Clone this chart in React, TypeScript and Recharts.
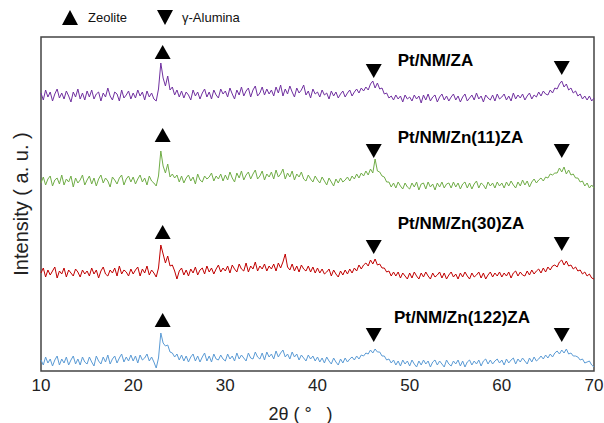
import { LineChart, Line, XAxis, YAxis, ReferenceArea, ReferenceDot } from "recharts"

// XRD scans, 10-70 deg, 0.25 deg step (intensity in a.u.)
const scanStart = 10
const scanStep = 0.25

const ptNmZa = [
  12, 5, 15, 8, 13, 4, 11, 16, 7, 12, 6, 14, 9, 3, 13, 8, 16, 6, 12, 5,
  14, 8, 15, 6, 11, 13, 4, 12, 8, 17, 9, 5, 13, 11, 4, 15, 7, 10, 14, 6,
  12, 7, 15, 9, 13, 5, 14, 8, 12, 6, 4, 16, 42, 27, 19, 29, 15, 18, 10, 15,
  8, 14, 7, 13, 10, 5, 15, 9, 13, 6, 12, 16, 8, 13, 6, 15, 10, 7, 16, 11,
  14, 8, 17, 11, 6, 15, 10, 18, 9, 14, 17, 8, 15, 19, 9, 12, 18, 10, 16, 11,
  15, 9, 18, 12, 20, 9, 16, 11, 19, 13, 8, 17, 12, 15, 20, 10, 14, 7, 16, 11,
  13, 8, 15, 10, 12, 6, 14, 9, 13, 7, 11, 14, 8, 12, 15, 9, 13, 16, 12, 17,
  14, 18, 15, 21, 24, 17, 22, 16, 17, 11, 12, 7, 9, 5, 10, 6, 9, 3, 10, 6,
  8, 4, 10, 6, 9, 2, 10, 5, 11, 4, 8, 10, 3, 8, 11, 5, 9, 4, 8, 11,
  5, 9, 3, 8, 11, 4, 7, 10, 5, 12, 6, 9, 3, 10, 7, 5, 10, 4, 11, 6,
  8, 11, 5, 9, 4, 12, 6, 10, 7, 11, 5, 9, 12, 6, 10, 8, 13, 9, 14, 11,
  10, 15, 12, 17, 16, 21, 24, 18, 21, 15, 17, 12, 14, 9, 11, 6, 9, 5, 9, 4,
  7,
]

const ptNmZn11Za = [
  8, 14, 6, 12, 15, 5, 11, 13, 7, 16, 6, 12, 9, 15, 4, 13, 8, 11, 16, 6,
  11, 15, 7, 13, 5, 12, 16, 8, 13, 10, 4, 14, 11, 7, 13, 16, 6, 12, 15, 9,
  14, 7, 12, 16, 9, 13, 6, 15, 10, 8, 5, 15, 40, 25, 18, 27, 14, 17, 13, 16,
  9, 15, 8, 13, 16, 10, 14, 7, 17, 11, 9, 15, 12, 14, 18, 10, 15, 12, 17, 10,
  16, 11, 19, 13, 9, 18, 13, 20, 11, 16, 19, 12, 17, 21, 12, 15, 20, 11, 17, 14,
  19, 12, 21, 14, 17, 22, 12, 18, 14, 20, 11, 17, 14, 19, 12, 10, 16, 12, 9, 15,
  11, 8, 14, 10, 6, 13, 9, 5, 12, 8, 13, 9, 11, 14, 10, 15, 12, 17, 13, 18,
  15, 20, 16, 22, 18, 32, 20, 19, 15, 14, 9, 9, 4, 8, 3, 9, 5, 2, 8, 4,
  2, 8, 4, 9, 1, 7, 8, 2, 9, 4, 7, 1, 8, 4, 9, 3, 7, 8, 3, 9,
  4, 8, 2, 7, 9, 3, 8, 2, 7, 10, 3, 8, 6, 2, 9, 5, 8, 3, 9, 5,
  8, 3, 9, 5, 10, 6, 3, 9, 5, 11, 6, 10, 4, 9, 12, 8, 11, 13, 10, 14,
  13, 17, 16, 18, 18, 23, 19, 24, 17, 21, 16, 17, 13, 13, 9, 10, 5, 8, 3, 6,
  3,
]

const ptNmZn30Za = [
  10, 15, 6, 13, 8, 12, 16, 5, 12, 9, 15, 6, 13, 10, 7, 14, 11, 6, 13, 9,
  12, 7, 15, 9, 13, 5, 12, 16, 9, 7, 13, 10, 15, 7, 17, 9, 13, 11, 7, 14,
  9, 13, 16, 7, 14, 10, 17, 8, 13, 10, 6, 15, 38, 29, 20, 27, 17, 18, 12, 4,
  12, 15, 8, 13, 7, 14, 10, 16, 8, 13, 15, 9, 17, 11, 15, 9, 14, 18, 11, 15,
  12, 17, 10, 18, 14, 11, 19, 14, 12, 20, 11, 17, 14, 21, 12, 17, 14, 19, 12, 17,
  14, 19, 12, 20, 15, 21, 29, 16, 13, 19, 12, 17, 11, 18, 14, 12, 17, 11, 16, 10,
  15, 10, 14, 9, 11, 14, 7, 13, 9, 6, 12, 8, 13, 9, 14, 10, 15, 12, 18, 14,
  18, 20, 17, 23, 19, 24, 18, 19, 15, 15, 11, 12, 7, 11, 7, 11, 5, 10, 7, 4,
  10, 5, 11, 7, 4, 10, 6, 11, 7, 4, 10, 6, 8, 11, 5, 10, 4, 8, 11, 6,
  9, 4, 10, 6, 11, 7, 4, 10, 6, 8, 11, 5, 10, 4, 8, 11, 6, 10, 7, 11,
  6, 10, 7, 11, 5, 10, 12, 7, 11, 8, 7, 12, 8, 13, 9, 12, 14, 10, 15, 11,
  16, 13, 17, 18, 16, 21, 23, 18, 22, 17, 18, 14, 16, 12, 13, 9, 11, 7, 9, 5,
  4,
]

const ptNmZn122Za = [
  11, 6, 14, 8, 12, 5, 11, 15, 6, 12, 8, 14, 6, 11, 15, 7, 12, 6, 14, 9,
  7, 14, 9, 5, 15, 10, 7, 14, 9, 16, 7, 12, 15, 8, 13, 17, 9, 14, 10, 16,
  10, 15, 8, 16, 11, 13, 17, 10, 14, 9, 3, 13, 38, 28, 25, 26, 19, 18, 14, 17,
  11, 16, 10, 15, 9, 14, 17, 10, 15, 9, 14, 18, 10, 15, 9, 17, 12, 11, 16, 12,
  10, 17, 12, 15, 10, 18, 12, 16, 13, 10, 18, 13, 12, 19, 14, 12, 18, 11, 19, 14,
  17, 12, 20, 14, 18, 21, 14, 17, 12, 19, 14, 17, 11, 16, 13, 10, 16, 12, 15, 10,
  14, 9, 13, 8, 14, 10, 7, 13, 9, 6, 12, 8, 13, 9, 12, 14, 11, 15, 12, 16,
  15, 18, 17, 21, 18, 22, 19, 19, 15, 15, 11, 12, 8, 11, 6, 10, 5, 11, 7, 10,
  5, 11, 7, 4, 10, 6, 11, 7, 10, 4, 9, 11, 6, 10, 7, 4, 11, 7, 5, 10,
  7, 11, 5, 10, 4, 9, 11, 6, 10, 7, 11, 5, 10, 12, 7, 11, 7, 10, 12, 8,
  11, 6, 12, 8, 11, 13, 7, 12, 9, 13, 10, 7, 13, 9, 14, 10, 12, 15, 12, 16,
  13, 17, 14, 18, 20, 17, 21, 18, 22, 17, 18, 15, 15, 14, 11, 12, 8, 9, 10, 6,
  4,
]

const sampleNames = ["Pt/NM/ZA", "Pt/NM/Zn(11)ZA", "Pt/NM/Zn(30)ZA", "Pt/NM/Zn(122)ZA"]
const sampleScans = [ptNmZa, ptNmZn11Za, ptNmZn30Za, ptNmZn122Za]
const stackOffsets = [266, 180, 88, 0]
const sampleColors = ["#7030a0", "#70ad47", "#c00000", "#5b9bd5"]

const xTicks = [10, 20, 30, 40, 50, 60, 70]
const zeolitePeaks = [23.2]
const aluminaPeaks = [46.1, 66.5]

// annotation heights (same units as the stacked y axis)
const zeoliteMarkY = [319, 236, 139, 51]
const aluminaMarkY = [[300, 303], [220, 220], [124, 127], [36, 36]]
const nameY = [311, 234, 148, 54]
const nameX = [48.7, 48.7, 48.7, 48.3]

const data = ptNmZa.map((_, i) => {
  const row: Record<string, number> = { twoTheta: scanStart + i * scanStep }
  sampleScans.forEach((scan, k) => {
    row["s" + k] = scan[i] + stackOffsets[k]
  })
  return row
})

const font = "'Liberation Sans', Arial, sans-serif"

const triangle = (down: boolean) => (props: any) => {
  const { cx, cy } = props
  const pts = down
    ? `${cx - 8},${cy - 7} ${cx + 8},${cy - 7} ${cx},${cy + 7}`
    : `${cx - 8},${cy + 7} ${cx + 8},${cy + 7} ${cx},${cy - 7}`
  return <polygon points={pts} fill="#000" />
}

const nameLabel = (text: string) => (props: any) => (
  <text
    x={props.cx}
    y={props.cy}
    dominantBaseline="central"
    fontFamily={font}
    fontWeight="bold"
    fontSize={17}
    fill="#000"
  >
    {text}
  </text>
)

function LegendMark({ down }: { down: boolean }) {
  return (
    <svg width={16} height={15} style={{ display: "block" }}>
      <polygon points={down ? "0,0 16,0 8,15" : "0,15 16,15 8,0"} fill="#000" />
    </svg>
  )
}

export default function App() {
  return (
    <div style={{ position: "absolute", left: 0, top: 0, width: 604, height: 423, background: "#fff" }}>
      <div
        style={{
          position: "absolute",
          top: 10,
          left: 62,
          display: "flex",
          alignItems: "center",
          fontFamily: font,
          fontSize: 13,
          color: "#111",
        }}
      >
        <LegendMark down={false} />
        <span style={{ marginLeft: 10, marginRight: 30 }}>Zeolite</span>
        <LegendMark down={true} />
        <span style={{ marginLeft: 9 }}>γ-Alumina</span>
      </div>
      <LineChart width={604} height={423} data={data} margin={{ top: 37, right: 10, bottom: 0, left: 0 }}>
        <XAxis
          dataKey="twoTheta"
          type="number"
          domain={[10, 70]}
          ticks={xTicks}
          tickLine={false}
          axisLine={false}
          height={52}
          tick={{ fontSize: 17, fill: "#222", fontFamily: font }}
          label={{
            value: "2θ ( °\u00a0\u00a0\u00a0)",
            position: "insideBottom",
            offset: 3,
            fontSize: 18,
            fill: "#222",
            fontFamily: font,
            dx: -17,
          }}
        />
        <YAxis
          type="number"
          domain={[0, 334]}
          width={41}
          tick={false}
          tickLine={false}
          axisLine={false}
          label={{
            value: "Intensity ( a. u. )",
            angle: -90,
            position: "center",
            fontSize: 20,
            fill: "#222",
            fontFamily: font,
          }}
        />
        {sampleScans.map((_, k) => (
          <Line
            key={k}
            type="linear"
            dataKey={"s" + k}
            stroke={sampleColors[k]}
            strokeWidth={1}
            dot={false}
            isAnimationActive={false}
          />
        ))}
        <ReferenceArea x1={10} x2={70} y1={0} y2={334} fill="none" stroke="#444" strokeWidth={1.5} />
        {zeoliteMarkY.map((y, k) =>
          zeolitePeaks.map((p) => (
            <ReferenceDot key={`z${k}${p}`} x={p} y={y} r={8} shape={triangle(false)} />
          ))
        )}
        {aluminaMarkY.map((ys, k) =>
          aluminaPeaks.map((p, j) => (
            <ReferenceDot key={`a${k}${p}`} x={p} y={ys[j]} r={8} shape={triangle(true)} />
          ))
        )}
        {sampleNames.map((name, k) => (
          <ReferenceDot key={name} x={nameX[k]} y={nameY[k]} r={1} shape={nameLabel(name)} />
        ))}
      </LineChart>
    </div>
  )
}
